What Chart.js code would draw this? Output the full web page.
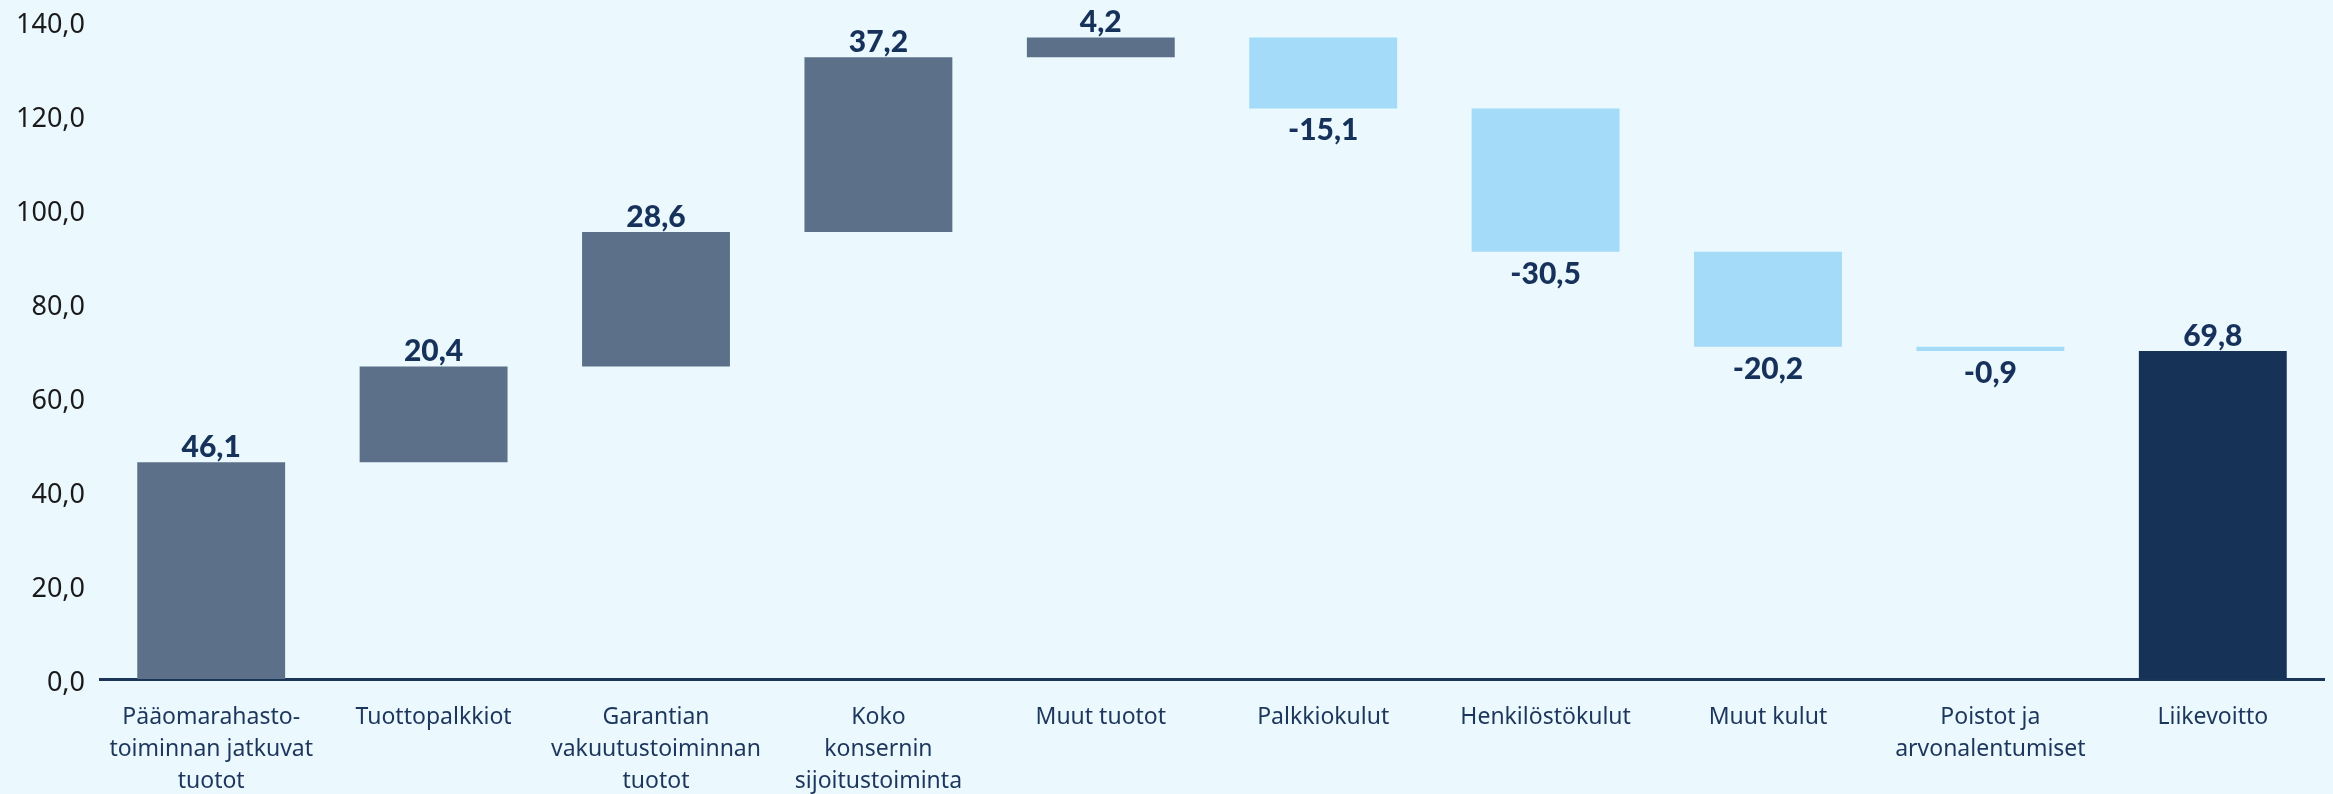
<!DOCTYPE html>
<html>
<head>
<meta charset="utf-8">
<script src="https://cdn.jsdelivr.net/npm/chart.js@4/dist/chart.umd.min.js"></script>
<style>
  html, body { margin: 0; padding: 0; background: #ebf8fe; }
  #wrap { width: 2333px; height: 794px; }
</style>
</head>
<body>
<div id="wrap"><canvas id="chart"></canvas></div>
<script>
// categories and the change each step adds (last one is the total)
const categories = [
    ['Pääomarahasto-', 'toiminnan jatkuvat', 'tuotot'],
    'Tuottopalkkiot',
    ['Garantian', 'vakuutustoiminnan', 'tuotot'],
    ['Koko', 'konsernin', 'sijoitustoiminta'],
    'Muut tuotot',
    'Palkkiokulut',
    'Henkilöstökulut',
    'Muut kulut',
    ['Poistot ja', 'arvonalentumiset'],
    'Liikevoitto'
];
const changes = [46.1, 20.4, 28.6, 37.2, 4.2, -15.1, -30.5, -20.2, -0.9, 69.8];
const isTotal = [false, false, false, false, false, false, false, false, false, true];
const yTicks = [0, 20, 40, 60, 80, 100, 120, 140];

const COLOR_UP = '#5c7089';
const COLOR_DOWN = '#a3dbf8';
const COLOR_TOTAL = '#163257';
const NAVY = '#17325a';

// build floating ranges for the waterfall
let running = 0;
const ranges = changes.map((v, i) => {
    if (isTotal[i]) return [0, v];
    const start = running;
    running += v;
    return [start, running];
});
const colors = changes.map((v, i) => isTotal[i] ? COLOR_TOTAL : (v >= 0 ? COLOR_UP : COLOR_DOWN));

const fmt = v => v.toFixed(1).replace('.', ',');

const valueLabels = {
    id: 'valueLabels',
    afterDatasetsDraw(chart) {
        const ctx = chart.ctx;
        const meta = chart.getDatasetMeta(0);
        ctx.save();
        ctx.font = '900 30px Lato';
        ctx.fillStyle = NAVY;
        ctx.textAlign = 'center';
        ctx.textBaseline = 'alphabetic';
        meta.data.forEach((bar, i) => {
            const v = changes[i];
            const top = Math.min(bar.y, bar.base);
            const bottom = Math.max(bar.y, bar.base);
            if (v >= 0) {
                ctx.fillText(fmt(v), bar.x, top - 5);
            } else {
                ctx.fillText(fmt(v), bar.x, bottom + 32);
            }
        });
        ctx.restore();
    }
};

new Chart(document.getElementById('chart'), {
    type: 'bar',
    data: {
        labels: categories,
        datasets: [{
            data: ranges,
            backgroundColor: colors,
            borderWidth: 0,
            categoryPercentage: 1,
            barPercentage: 0.665
        }]
    },
    options: {
        responsive: true,
        maintainAspectRatio: false,
        animation: false,
        layout: { padding: { top: 21, right: 9, left: 0, bottom: 0 } },
        plugins: {
            legend: { display: false },
            tooltip: { enabled: false }
        },
        scales: {
            x: {
                grid: { display: false, drawTicks: false },
                border: { display: true, color: '#1b3559', width: 3 },
                ticks: {
                    color: '#1c365c',
                    font: { family: '"Noto Sans"', size: 23, lineHeight: 1.4 },
                    padding: 22,
                    maxRotation: 0,
                    autoSkip: false
                },
                afterFit(scale) {
                    scale.height = 115;
                    scale.paddingLeft = 0;
                    scale.paddingRight = 0;
                }
            },
            y: {
                min: 0,
                max: 140,
                grid: { display: false, drawTicks: false },
                border: { display: false },
                afterBuildTicks(scale) {
                    scale.ticks = yTicks.map(v => ({ value: v }));
                },
                ticks: {
                    color: '#1a1a1a',
                    font: { family: '"Noto Sans"', size: 27 },
                    padding: 15,
                    labelOffset: 4,
                    callback: v => fmt(v)
                },
                afterFit(scale) {
                    scale.width = 100;
                    scale.paddingTop = 0;
                    scale.paddingBottom = 0;
                }
            }
        }
    },
    plugins: [valueLabels]
});
</script>
</body>
</html>
